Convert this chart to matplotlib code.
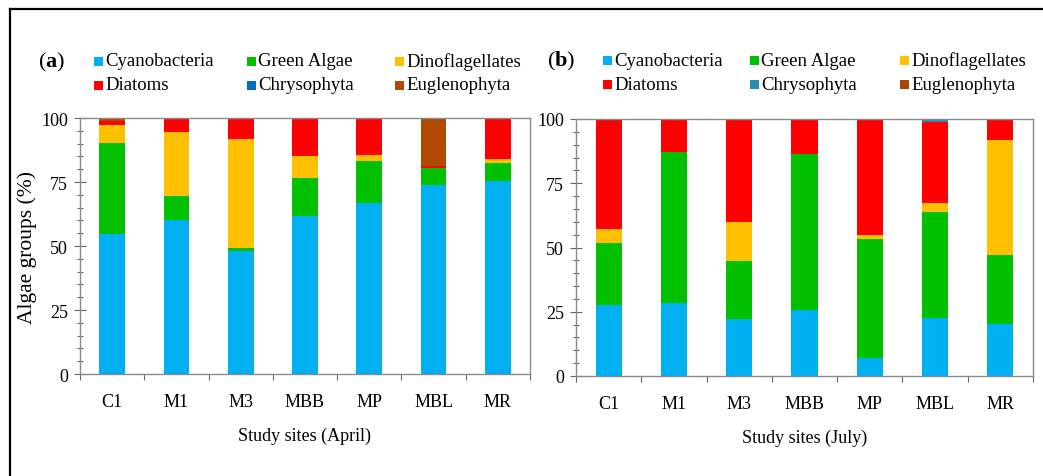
import matplotlib
matplotlib.use('Agg')
import matplotlib.pyplot as plt
import numpy as np
from matplotlib.patches import Rectangle
from matplotlib.lines import Line2D

plt.rcParams['font.family'] = ['Liberation Serif', 'DejaVu Serif']
plt.rcParams['mathtext.fontset'] = 'custom'
plt.rcParams['mathtext.rm'] = 'Liberation Serif'
plt.rcParams['mathtext.bf'] = 'Liberation Serif:bold'

sites = ['C1', 'M1', 'M3', 'MBB', 'MP', 'MBL', 'MR']
groups = ['Cyanobacteria', 'Green Algae', 'Dinoflagellates',
          'Diatoms', 'Chrysophyta', 'Euglenophyta']

# April (%)
apr_cyano = [54.7, 60.2, 48.2, 61.6, 66.7, 73.8, 75.4]
apr_green = [35.4, 9.5, 1.0, 15.0, 16.4, 6.5, 7.0]
apr_dino = [7.2, 24.7, 42.6, 8.4, 2.6, 0.0, 1.6]
apr_diatom = [1.5, 5.6, 8.2, 15.0, 14.3, 1.1, 16.0]
apr_chryso = [0.0, 0.0, 0.0, 0.0, 0.0, 0.0, 0.0]
apr_eugleno = [1.2, 0.0, 0.0, 0.0, 0.0, 18.6, 0.0]

# July (%)
jul_cyano = [27.5, 28.3, 22.3, 25.7, 6.9, 22.6, 20.4]
jul_green = [24.2, 58.7, 22.5, 60.7, 46.6, 41.2, 26.7]
jul_dino = [5.4, 0.0, 15.2, 0.0, 1.4, 3.5, 44.8]
jul_diatom = [42.9, 13.0, 40.0, 13.6, 45.1, 31.7, 8.1]
jul_chryso = [0.0, 0.0, 0.0, 0.0, 0.0, 1.0, 0.0]
jul_eugleno = [0.0, 0.0, 0.0, 0.0, 0.0, 0.0, 0.0]

col_a = ['#00B0F0', '#00C000', '#FFC000', '#FF0000', '#0070C0', '#B04A00']
col_b = ['#00B0F0', '#00C000', '#FFC000', '#FF0000', '#2A8CB0', '#A8460A']

W, H = 1043, 477
fig = plt.figure(figsize=(W / 100, H / 100), dpi=100)

# frame around the figure (cut at right/bottom like the original)
fig.add_artist(Line2D([10 / W, 1], [1 - 10 / H, 1 - 10 / H], color='black', lw=1.6))
fig.add_artist(Line2D([10 / W, 10 / W], [1 - 10 / H, 0], color='black', lw=1.6))


def panel(rect, series, colors, letter, xlabel, leg_x, leg_y, colx, ylabel=None):
    ax = fig.add_axes(rect)
    x = np.arange(len(sites))
    bottom = np.zeros(len(sites))
    for vals, c in zip(series, colors):
        ax.bar(x, vals, 0.4, bottom=bottom, color=c, linewidth=0)
        bottom += np.array(vals)
    ax.set_xlim(-0.5, len(sites) - 0.5)
    ax.set_ylim(0, 100)
    ax.set_yticks([0, 25, 50, 75, 100])
    ax.set_yticks(np.arange(0, 101, 5), minor=True)
    ax.set_xticks(x)
    ax.set_xticklabels(sites)
    ax.set_xticks(np.arange(-0.5, len(sites), 1), minor=True)
    ax.tick_params(axis='y', which='major', direction='inout', length=9,
                   width=0.8, color='#666666', labelsize=13, pad=4)
    ax.tick_params(axis='y', which='minor', direction='inout', length=5,
                   width=0.8, color='#666666')
    ax.tick_params(axis='x', which='major', length=0, labelsize=13, pad=14)
    ax.tick_params(axis='x', which='minor', direction='out', length=4,
                   width=0.8, color='#666666')
    for s in ax.spines.values():
        s.set_color('#8a8a8a')
        s.set_linewidth(1.0)
    ax.set_xlabel(xlabel, fontsize=13, labelpad=12)
    if ylabel:
        ax.set_ylabel(ylabel, fontsize=15.5, labelpad=3)

    # letter and legend in figure pixels
    fig.text(leg_x - 56 / W, leg_y, '($\\mathbf{' + letter + '}$)',
             fontsize=16, va='center', ha='left')
    for i, (g, c) in enumerate(zip(groups, colors)):
        r, k = divmod(i, 3)
        px = leg_x + colx[k] / W
        py = leg_y - r * 24 / H
        fig.add_artist(Rectangle((px, py - 4.5 / H), 9 / W, 9 / H,
                                 transform=fig.transFigure, color=c, lw=0))
        fig.text(px + 11 / W, py, g, fontsize=13.5, va='center', ha='left')
    return ax


panel([80 / W, 1 - 375 / H, 450 / W, 256 / H],
      [apr_cyano, apr_green, apr_dino, apr_diatom, apr_chryso, apr_eugleno],
      col_a, 'a', 'Study sites (April)', 94 / W, 1 - 62 / H, [0, 153, 301],
      ylabel='Algae groups (%)')
panel([576 / W, 1 - 377 / H, 457 / W, 257 / H],
      [jul_cyano, jul_green, jul_dino, jul_diatom, jul_chryso, jul_eugleno],
      col_b, 'b', 'Study sites (July)', 603 / W, 1 - 61 / H, [0, 147, 297])

fig.savefig('out.png', dpi=100)
